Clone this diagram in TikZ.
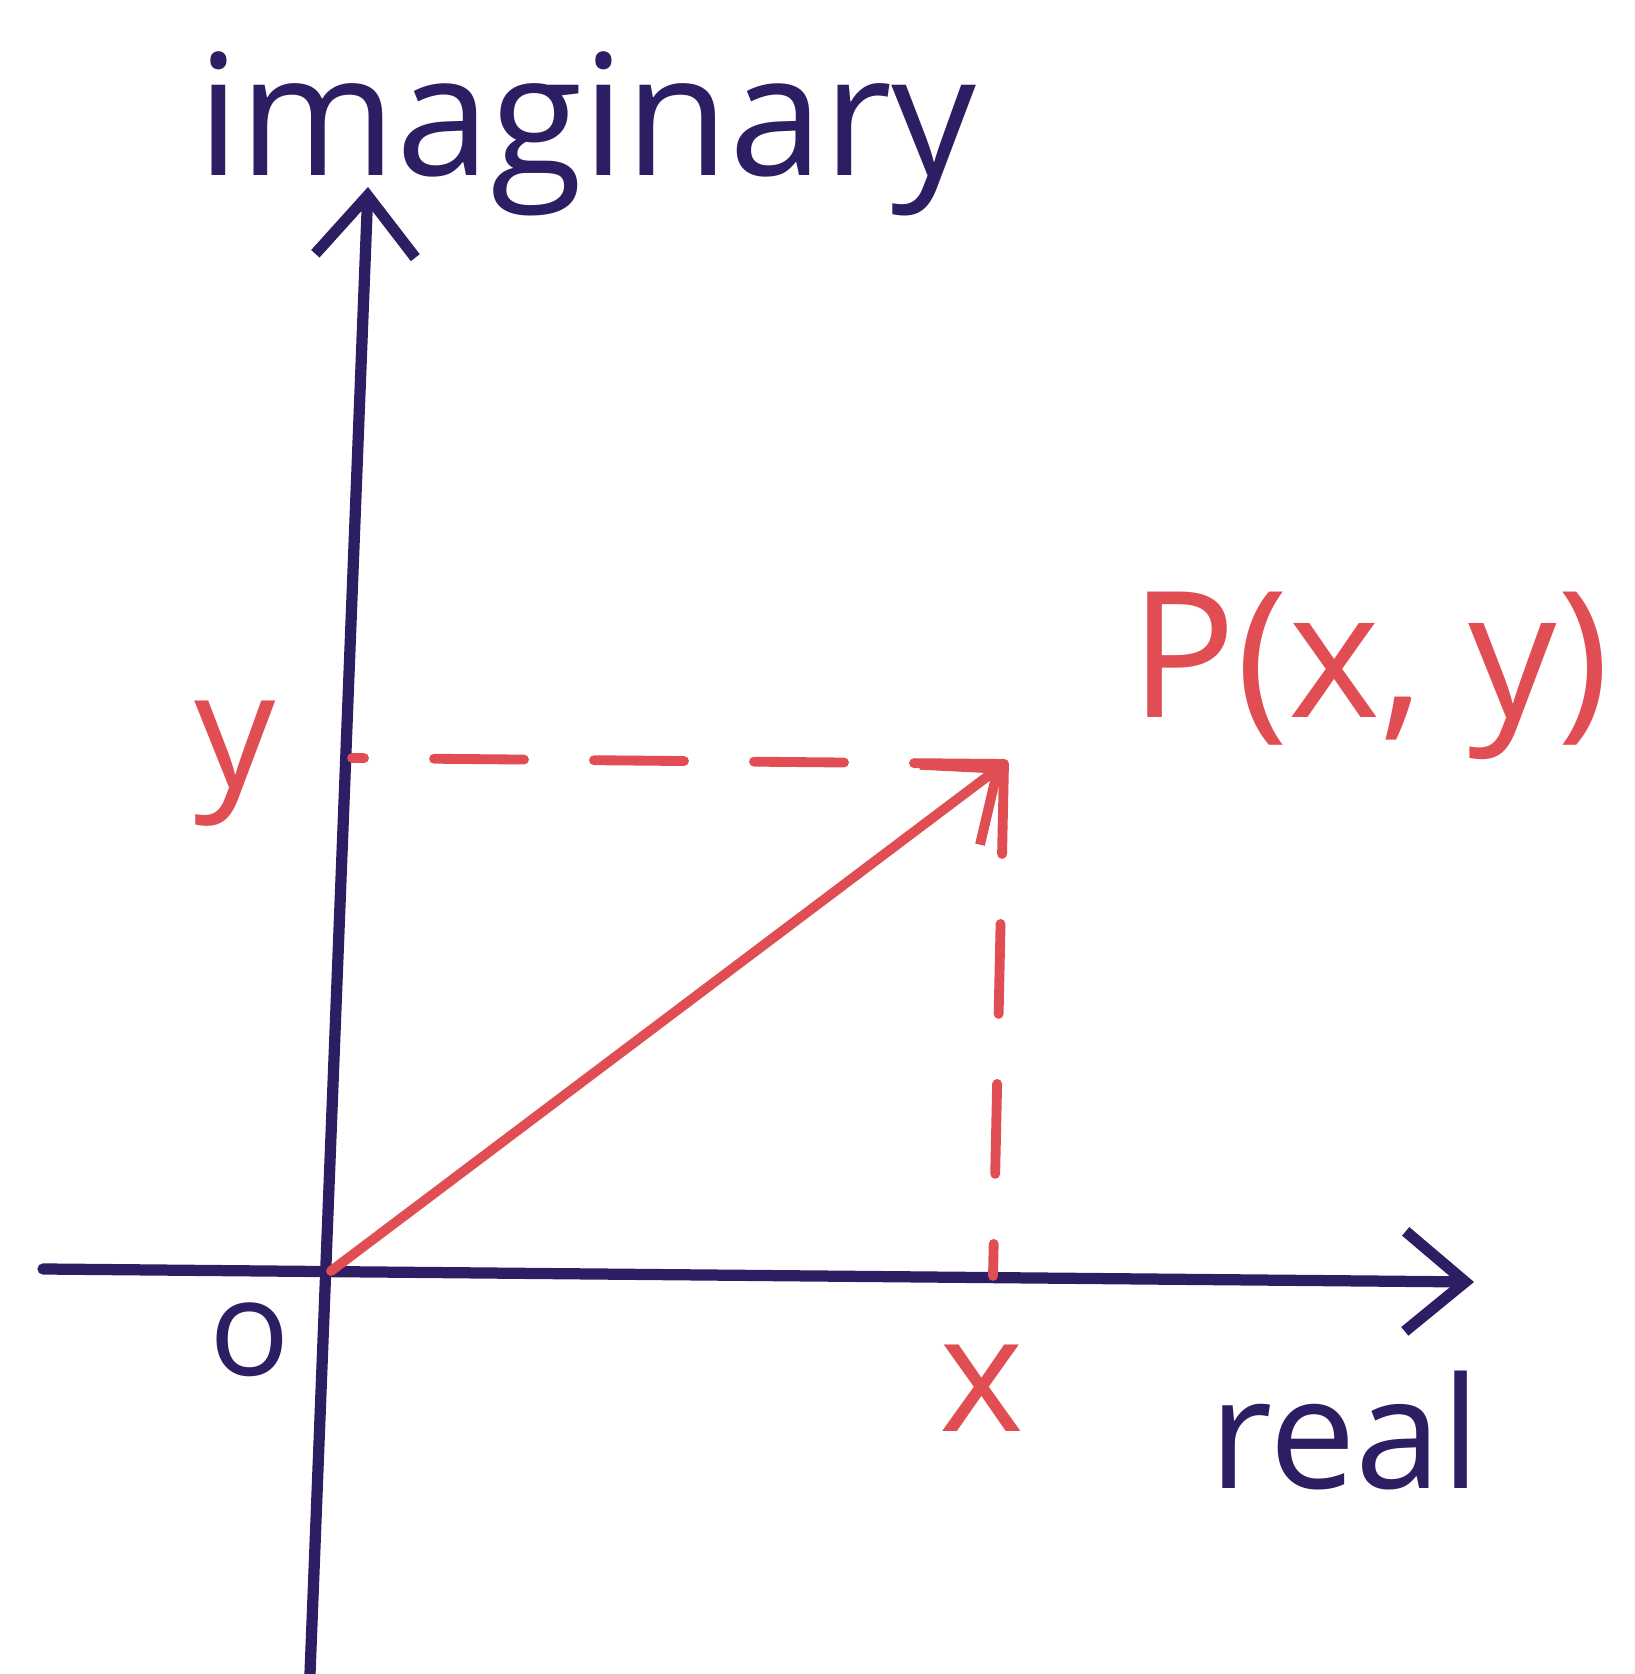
\documentclass[tikz,border=0pt]{standalone}
\usepackage{fontspec}
\setmainfont{Open Sans}
\usepackage{tikz}
\usetikzlibrary{calc, positioning, arrows.meta}
\definecolor{axisInk}{RGB}{45, 30, 100}
\definecolor{pointInk}{RGB}{224, 78, 84}

\begin{document}
\begin{tikzpicture}[>={Straight Barb[length=6mm, width=10mm]}, line cap=round, line join=round]
  \useasboundingbox (0,0) rectangle (16.35,16.74);
  \tikzset{
    axisline/.style={draw=axisInk, line width=3.2pt},
    redline/.style={draw=pointInk, line width=2.8pt},
    guide/.style={draw=pointInk, line width=2.8pt, dash pattern=on 9mm off 7mm},
    axislabel/.style={text=axisInk, font=\fontsize{48}{54}\selectfont},
    redlabel/.style={text=pointInk, font=\fontsize{46}{52}\selectfont}
  }
  \coordinate (o) at (3.31,4.03);
  \coordinate (imtop) at (3.68,14.87);
  \coordinate (imbot) at (3.10,0);
  \coordinate (releft) at (0.43,4.05);
  \coordinate (reright) at (14.74,3.92);
  \coordinate (p) at (10.04,9.10);
  \coordinate (ytick) at (3.52,9.16);
  \coordinate (xtick) at (9.93,3.98);
  % axes
  \draw[axisline, ->] (imbot) -- (imtop);
  \draw[axisline, ->] (releft) -- (reright);
  % point and guides
  \draw[redline, ->] (o) -- (p);
  \draw[guide] (p) -- (ytick);
  \draw[guide] (p) -- (xtick);
  % labels
  \node[axislabel] (imlabel) at (5.87,15.40) {imaginary};
  \node[axislabel, font=\fontsize{44}{50}\selectfont] (relabel) at (13.45,2.43) {real};
  \node[axislabel, font=\fontsize{38}{44}\selectfont] (olabel) at (2.50,3.34) {o};
  \node[redlabel] (ylabel) at (2.35,9.10) {y};
  \node[redlabel] (xlabel) at (9.82,2.86) {x};
  \node[redlabel, font=\fontsize{50}{56}\selectfont] (plabel) at (13.70,9.98) {P(x, y)};
\end{tikzpicture}
\end{document}
